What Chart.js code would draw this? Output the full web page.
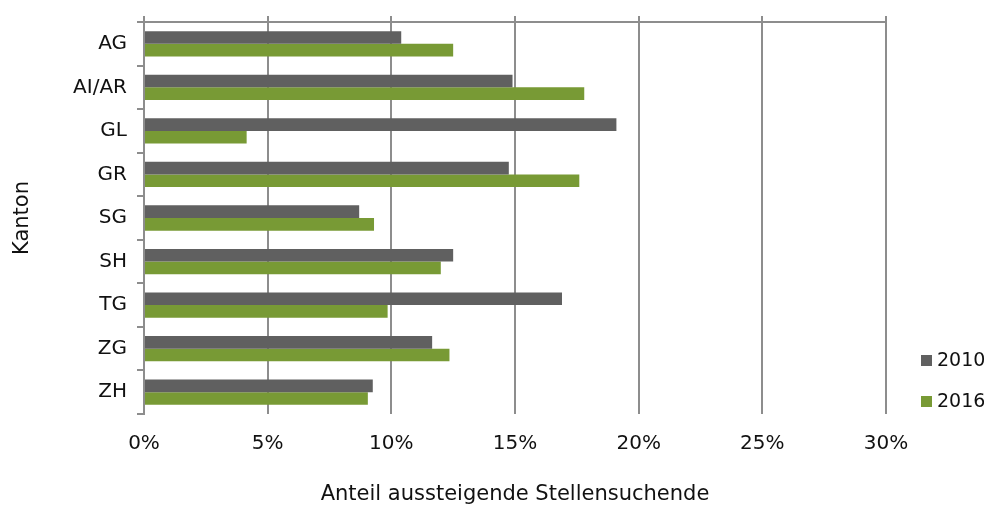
<!DOCTYPE html>
<html>
<head>
<meta charset="utf-8">
<script src="https://cdn.jsdelivr.net/npm/chart.js@4/dist/chart.umd.min.js"></script>
<style>
  html, body { margin: 0; padding: 0; background: #fff; }
  #wrap { width: 984px; height: 507px; }
</style>
</head>
<body>
<div id="wrap"><canvas id="chart" width="984" height="507"></canvas></div>
<script>
// Kantone und Anteile (in %)
const cantons = ['AG', 'AI/AR', 'GL', 'GR', 'SG', 'SH', 'TG', 'ZG', 'ZH'];
const share2010 = [10.4, 14.9, 19.1, 14.75, 8.7, 12.5, 16.9, 11.65, 9.25];
const share2016 = [12.5, 17.8, 4.15, 17.6, 9.3, 12.0, 9.85, 12.35, 9.05];
const xTicks = [0, 5, 10, 15, 20, 25, 30];

const gridColor = '#8d8d8d';
const fontFamily = '"DejaVu Sans", Verdana, sans-serif';

// top axis line with outside tick marks (Excel style)
const topAxis = {
  id: 'topAxis',
  afterDraw(chart) {
    const { ctx, chartArea } = chart;
    const x = chart.scales.x;
    ctx.save();
    ctx.strokeStyle = gridColor;
    ctx.lineWidth = 2;
    ctx.beginPath();
    ctx.moveTo(chartArea.left, chartArea.top);
    ctx.lineTo(chartArea.right, chartArea.top);
    xTicks.forEach(t => {
      const px = Math.round(x.getPixelForValue(t));
      ctx.moveTo(px, chartArea.top);
      ctx.lineTo(px, chartArea.top - 6);
    });
    ctx.stroke();
    ctx.restore();
  }
};

// legend at the lower right
const sideLegend = {
  id: 'sideLegend',
  afterDraw(chart) {
    const { ctx } = chart;
    ctx.save();
    ctx.font = '19px ' + fontFamily;
    ctx.textBaseline = 'middle';
    chart.data.datasets.forEach((ds, i) => {
      const y = 360 + i * 41;
      ctx.fillStyle = ds.backgroundColor;
      ctx.fillRect(921, y - 5, 11, 11);
      ctx.fillStyle = '#111';
      ctx.fillText(ds.label, 937, y + 1);
    });
    ctx.restore();
  }
};

new Chart(document.getElementById('chart'), {
  type: 'bar',
  data: {
    labels: cantons,
    datasets: [
      { label: '2010', data: share2010, backgroundColor: '#606060' },
      { label: '2016', data: share2016, backgroundColor: '#789a35' }
    ]
  },
  options: {
    indexAxis: 'y',
    responsive: false,
    animation: false,
    devicePixelRatio: 1,
    categoryPercentage: 0.58,
    barPercentage: 1,
    layout: { padding: { top: 18, right: 98, left: 0, bottom: 0 } },
    plugins: {
      legend: { display: false },
      tooltip: { enabled: false }
    },
    scales: {
      x: {
        min: 0,
        max: 30,
        afterFit: s => { s.height = 93; },
        afterBuildTicks: s => { s.ticks = xTicks.map(v => ({ value: v })); },
        grid: { color: gridColor, lineWidth: 2, drawTicks: false },
        border: { display: false },
        ticks: {
          padding: 18,
          color: '#111',
          font: { family: fontFamily, size: 20 },
          callback: v => v + '%'
        },
        title: {
          display: true,
          text: 'Anteil aussteigende Stellensuchende',
          color: '#111',
          font: { family: fontFamily, size: 21 },
          padding: { top: 0, bottom: 0 }
        }
      },
      y: {
        afterFit: s => { s.width = 144; },
        grid: { drawOnChartArea: false, drawTicks: true, tickLength: 7, color: gridColor, lineWidth: 2, offset: true },
        border: { display: true, color: gridColor, width: 2 },
        ticks: {
          padding: 10,
          color: '#111',
          font: { family: fontFamily, size: 20 }
        },
        title: {
          display: true,
          text: 'Kanton',
          color: '#111',
          font: { family: fontFamily, size: 21 },
          padding: { top: 10, bottom: 0 }
        }
      }
    }
  },
  plugins: [topAxis, sideLegend]
});
</script>
</body>
</html>
